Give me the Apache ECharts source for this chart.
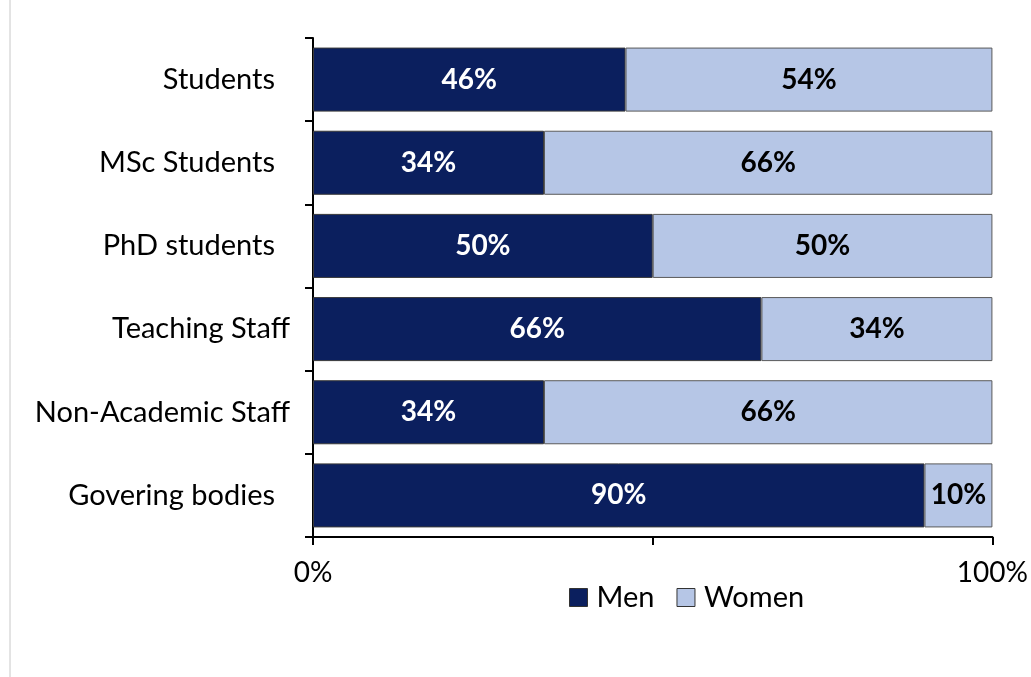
<!DOCTYPE html>
<html>
<head>
<meta charset="utf-8">
<script src="https://cdn.jsdelivr.net/npm/echarts@6/dist/echarts.min.js"></script>
<style>
  html, body { margin: 0; padding: 0; background: #fff; }
  #chart { width: 1031px; height: 677px; }
</style>
</head>
<body>
<div id="chart"></div>
<script>
var categories = ['Students ', 'MSc Students ', 'PhD students ', 'Teaching Staff', 'Non-Academic Staff', 'Govering bodies '];
var men = [46, 34, 50, 66, 34, 90];
var women = [54, 66, 50, 34, 66, 10];
var xTicks = [0, 100];

var font = 'Lato, "Open Sans", sans-serif';

var chart = echarts.init(document.getElementById('chart'));
chart.setOption({
  animation: false,
  textStyle: { fontFamily: font },
  grid: { left: 313, right: 38, top: 38, bottom: 140 },
  legend: {
    data: ['Men', 'Women'],
    top: 578,
    left: 564,
    itemWidth: 18,
    itemHeight: 18,
    itemGap: 22,
    icon: 'rect',
    itemStyle: { borderColor: '#333', borderWidth: 1 },
    textStyle: { fontSize: 29, color: '#000', fontFamily: font, padding: [0, 0, 0, 4] }
  },
  xAxis: {
    type: 'value',
    min: 0,
    max: 100,
    interval: 50,
    axisLine: { show: true, lineStyle: { color: '#000', width: 2 } },
    axisTick: { show: true, length: 8, lineStyle: { color: '#000', width: 2 } },
    splitLine: { show: false },
    axisLabel: {
      margin: 22,
      fontSize: 28,
      color: '#000',
      fontFamily: font,
      formatter: function (v) { return xTicks.indexOf(v) >= 0 ? v + '%' : ''; }
    }
  },
  yAxis: {
    type: 'category',
    inverse: true,
    data: categories,
    axisLine: { show: true, lineStyle: { color: '#000', width: 2 } },
    axisTick: { show: true, length: 8, lineStyle: { color: '#000', width: 2 } },
    axisLabel: {
      margin: 23, fontSize: 29, color: '#000', fontFamily: font,
      // labels that end in a space sit a bit further from the axis
      formatter: function (v) {
        return v.slice(-1) === ' ' ? '{p|' + v.trim() + '}' : v;
      },
      rich: { p: { fontSize: 29, fontFamily: font, color: '#000', padding: [0, 15, 0, 0] } }
    }
  },
  series: [
    {
      name: 'Men',
      type: 'bar',
      stack: 'all',
      data: men,
      barCategoryGap: '23%',
      itemStyle: { color: '#0b1f5e', borderColor: '#3a3a3a', borderWidth: 1 },
      label: {
        show: true, position: 'inside', color: '#fff', fontWeight: 'bold',
        fontSize: 28, fontFamily: font, formatter: '{c}%'
      }
    },
    {
      name: 'Women',
      type: 'bar',
      stack: 'all',
      data: women,
      itemStyle: { color: '#b6c6e6', borderColor: '#5a5a5a', borderWidth: 1 },
      label: {
        show: true, position: 'inside', color: '#000', fontWeight: 'bold',
        fontSize: 28, fontFamily: font, formatter: '{c}%'
      }
    }
  ],
  graphic: [
    { type: 'line', shape: { x1: 10, y1: 0, x2: 10, y2: 677 }, style: { stroke: '#c8c8c8', lineWidth: 1 } }
  ]
});
</script>
</body>
</html>
